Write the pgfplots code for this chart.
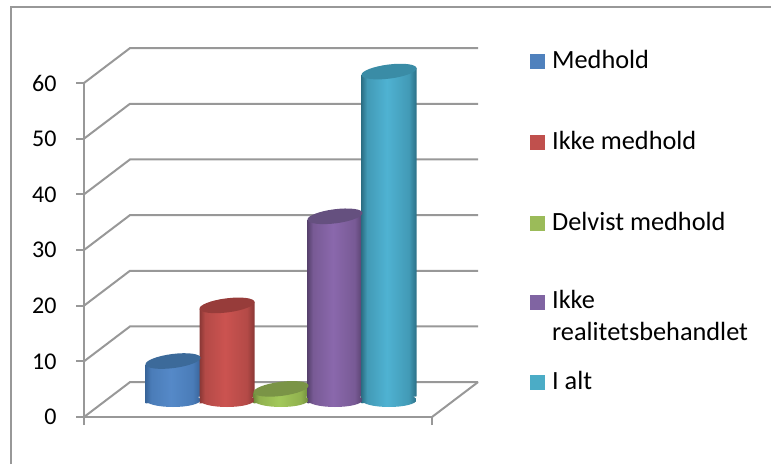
\documentclass[border=0pt]{standalone}
\usepackage{pgfplots}
\pgfplotsset{compat=1.18}
\usepackage{fontspec}
\setmainfont{Carlito}
\definecolor{gridc}{HTML}{989898}
\definecolor{lblue}{HTML}{4F81BD}
\definecolor{lred}{HTML}{C0504D}
\definecolor{lgreen}{HTML}{9BBB59}
\definecolor{lpurple}{HTML}{8064A2}
\definecolor{lteal}{HTML}{4BACC6}
\newcommand\defcyl[5]{%
  \definecolor{#1dark}{HTML}{#2}\definecolor{#1mid}{HTML}{#3}\definecolor{#1light}{HTML}{#4}\definecolor{#1cap}{HTML}{#5}%
  \pgfdeclarehorizontalshading{cyl#1}{100bp}{color(0bp)=(#1dark); color(25bp)=(#1dark); color(30bp)=(#1mid); color(48bp)=(#1light); color(68bp)=(#1mid); color(75bp)=(#1dark); color(100bp)=(#1dark)}%
  \pgfdeclareplotmark{end#1}{\begin{scope}\path[clip,draw=none,rotate=7.3] (0pt,0pt) ellipse (27.5pt and 7pt);\path[shade,shading=cyl#1,draw=none] (-27.5pt,-12pt) rectangle (27.5pt,12pt);\end{scope}}%
}
\defcyl{blue}{38659A}{4A7CB8}{5589C8}{3C6A9A}
\defcyl{red}{8A3735}{B44A47}{CB5350}{973C3A}
\defcyl{green}{6F8A3C}{90B14E}{A2C85A}{7A9446}
\defcyl{purple}{58426F}{785A95}{8A68AC}{65507F}
\defcyl{teal}{2C7086}{429AB6}{4FB2D2}{3A8CA6}
\pgfdeclareplotmark{cap}{\pgfpathellipse{\pgfpointorigin}{\pgfqpoint{27.5pt}{3.5pt}}{\pgfqpoint{-0.9pt}{7pt}}\pgfusepathqfill}
\pgfplotsset{
  sq/.style={legend image code/.code={\path[fill=#1,draw=none] (0pt,-9pt) rectangle (15pt,6pt);}},
}
\begin{document}
\begin{tikzpicture}[x=1pt,y=1pt]
\useasboundingbox (0,0) rectangle (771,464);
\draw[gridc,line width=2pt] (11,0) -- (11,457) -- (771,457);
% frame axis with the walls
\begin{axis}[
  at={(84pt,47pt)},anchor=south west,
  scale only axis,width=348pt,height=334pt,
  xmin=0,xmax=348,ymin=0,ymax=60,
  clip=false,
  axis lines*=left,
  axis line style={gridc,line width=2pt},
  tick style={gridc,line width=2pt},
  tick align=outside,
  major tick length=8pt,
  xtick={0,348},xticklabels={},
  ytick={0,10,...,60},
  /pgf/number format/assume math mode=true,
  ticklabel style={font=\fontsize{24}{26}\selectfont,text=black},
  yticklabel style={xshift=-16pt},
]
\addplot[gridc,line width=2pt,forget plot] coordinates {(0,0) (46,6.27) (394,6.27)};
\addplot[gridc,line width=2pt,forget plot] coordinates {(0,10) (46,16.27) (394,16.27)};
\addplot[gridc,line width=2pt,forget plot] coordinates {(0,20) (46,26.27) (394,26.27)};
\addplot[gridc,line width=2pt,forget plot] coordinates {(0,30) (46,36.27) (394,36.27)};
\addplot[gridc,line width=2pt,forget plot] coordinates {(0,40) (46,46.27) (394,46.27)};
\addplot[gridc,line width=2pt,forget plot] coordinates {(0,50) (46,56.27) (394,56.27)};
\addplot[gridc,line width=2pt,forget plot] coordinates {(0,60) (46,66.27) (394,66.27)};
\addplot[gridc,line width=2pt,forget plot] coordinates {(348,0) (394,6.27)};
\end{axis}
% cylinders
\begin{axis}[
  at={(84pt,64pt)},anchor=south west,
  scale only axis,width=348pt,height=334pt,
  xmin=-0.648,xmax=5.796,ymin=0,ymax=60,
  clip=false,
  hide axis,
  legend style={at={(1.282,1.047)},anchor=north west,draw=none,fill=none,inner sep=0pt,outer sep=0pt,row sep=61pt,font=\fontsize{26.3}{32}\selectfont,
    nodes={inner sep=0pt,outer sep=0pt},column sep=7pt},
  legend cell align=left,
]
\addlegendimage{sq=lblue}
\addlegendimage{sq=lred}
\addlegendimage{sq=lgreen}
\addlegendimage{sq=lpurple}
\addlegendimage{sq=lteal}
% Medhold
\addplot[only marks,mark=endblue,forget plot] coordinates {(1,0)};
\addplot[ybar,bar shift=0pt,bar width=55pt,draw=none,shade,shading=cylblue,yshift=-11.3pt,yslant=0.127,forget plot] coordinates {(1,7)};
\addplot[only marks,mark=cap,mark options={fill=bluecap,draw=none},forget plot] coordinates {(1,7)};
% Ikke medhold
\addplot[only marks,mark=endred,forget plot] coordinates {(2,0)};
\addplot[ybar,bar shift=0pt,bar width=55pt,draw=none,shade,shading=cylred,yshift=-18.2pt,yslant=0.127,forget plot] coordinates {(2,17)};
\addplot[only marks,mark=cap,mark options={fill=redcap,draw=none},forget plot] coordinates {(2,17)};
% Delvist medhold
\addplot[only marks,mark=endgreen,forget plot] coordinates {(3,0)};
\addplot[ybar,bar shift=0pt,bar width=55pt,draw=none,shade,shading=cylgreen,yshift=-25pt,yslant=0.127,forget plot] coordinates {(3,2)};
\addplot[only marks,mark=cap,mark options={fill=greencap,draw=none},forget plot] coordinates {(3,2)};
% Ikke realitetsbehandlet
\addplot[only marks,mark=endpurple,forget plot] coordinates {(4,0)};
\addplot[ybar,bar shift=0pt,bar width=55pt,draw=none,shade,shading=cylpurple,yshift=-31.8pt,yslant=0.127,forget plot] coordinates {(4,33)};
\addplot[only marks,mark=cap,mark options={fill=purplecap,draw=none},forget plot] coordinates {(4,33)};
% I alt
\addplot[only marks,mark=endteal,forget plot] coordinates {(5,0)};
\addplot[ybar,bar shift=0pt,bar width=55pt,draw=none,shade,shading=cylteal,yshift=-38.6pt,yslant=0.127,forget plot] coordinates {(5,59)};
\addplot[only marks,mark=cap,mark options={fill=tealcap,draw=none},forget plot] coordinates {(5,59)};
\legend{Medhold,Ikke medhold,Delvist medhold,{\raisebox{0pt}[16pt][0pt]{\parbox[t]{210pt}{Ikke\\realitetsbehandlet}}},I alt}
\end{axis}
\end{tikzpicture}
\end{document}
